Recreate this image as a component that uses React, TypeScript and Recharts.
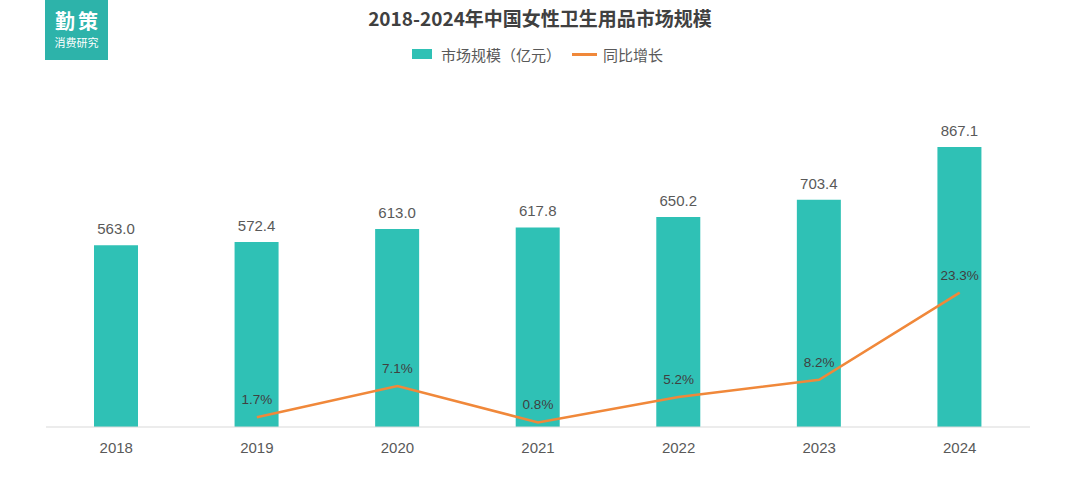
import React from 'react';
import { ComposedChart, Bar, Line, XAxis, YAxis, LabelList } from 'recharts';

const years = ['2018', '2019', '2020', '2021', '2022', '2023', '2024'];
const marketSize = [563.0, 572.4, 613.0, 617.8, 650.2, 703.4, 867.1];
const growth: (number | null)[] = [null, 1.7, 7.1, 0.8, 5.2, 8.2, 23.3];

const data = years.map((y, i) => ({ year: y, size: marketSize[i], growth: growth[i] }));

const FONT = '"Liberation Sans", Arial, "Noto Sans CJK SC", sans-serif';
const CJK = '"Noto Sans CJK SC", "Liberation Sans", sans-serif';

export default function App() {
  return (
    <div style={{ position: 'absolute', left: 0, top: 0, width: 1080, height: 488, background: '#fff' }}>
      <div style={{ position: 'absolute', left: 45, top: 0, width: 63, height: 60, background: '#2DB3AA', color: '#fff', fontFamily: CJK, textAlign: 'center' }}>
        <div style={{ fontSize: 20, fontWeight: 700, lineHeight: '22px', marginTop: 10, letterSpacing: 3, paddingLeft: 3 }}>勤策</div>
        <div style={{ fontSize: 11, lineHeight: '12px', marginTop: 4 }}>消费研究</div>
      </div>
      <div style={{ position: 'absolute', left: 0, top: 6, width: 1080, textAlign: 'center', fontFamily: CJK, fontSize: 19, fontWeight: 700, color: '#404040', lineHeight: '24px' }}>
        2018-2024年中国女性卫生用品市场规模
      </div>
      <div style={{ position: 'absolute', left: 412, top: 44, height: 20, display: 'flex', alignItems: 'center', fontFamily: CJK, fontSize: 15, color: '#595959' }}>
        <span style={{ display: 'inline-block', width: 20, height: 10, background: '#2FC1B5', marginRight: 9 }} />
        <span>市场规模（亿元）</span>
        <span style={{ display: 'inline-block', width: 25, height: 3, background: '#F0883A', marginLeft: 11, marginRight: 6 }} />
        <span>同比增长</span>
      </div>
      <div style={{ position: 'absolute', left: 0, top: 0 }}>
        <ComposedChart width={1080} height={488} data={data} margin={{ top: 104, right: 50, bottom: 31, left: 46 }}>
          <XAxis dataKey="year" axisLine={{ stroke: '#D9D9D9', strokeWidth: 1 }} tickLine={false} tickMargin={9} height={30}
            tick={{ fill: '#595959', fontSize: 15, fontFamily: FONT }} />
          <YAxis yAxisId="left" hide domain={[0, 1000]} />
          <YAxis yAxisId="right" orientation="right" hide domain={[0, 56]} />
          <Bar yAxisId="left" dataKey="size" fill="#2FC1B5" barSize={44} isAnimationActive={false}>
            <LabelList dataKey="size" position="top" offset={11} formatter={(v: number) => v.toFixed(1)}
              style={{ fill: '#595959', fontSize: 15, fontFamily: FONT }} />
          </Bar>
          <Line yAxisId="right" dataKey="growth" stroke="#F0883A" strokeWidth={2.5} dot={false} activeDot={false} isAnimationActive={false} connectNulls={false}>
            <LabelList dataKey="growth" position="top" offset={13} formatter={(v: number) => (v == null ? '' : v.toFixed(1) + '%')}
              style={{ fill: '#404040', fontSize: 13.5, fontFamily: FONT }} />
          </Line>
        </ComposedChart>
      </div>
    </div>
  );
}
